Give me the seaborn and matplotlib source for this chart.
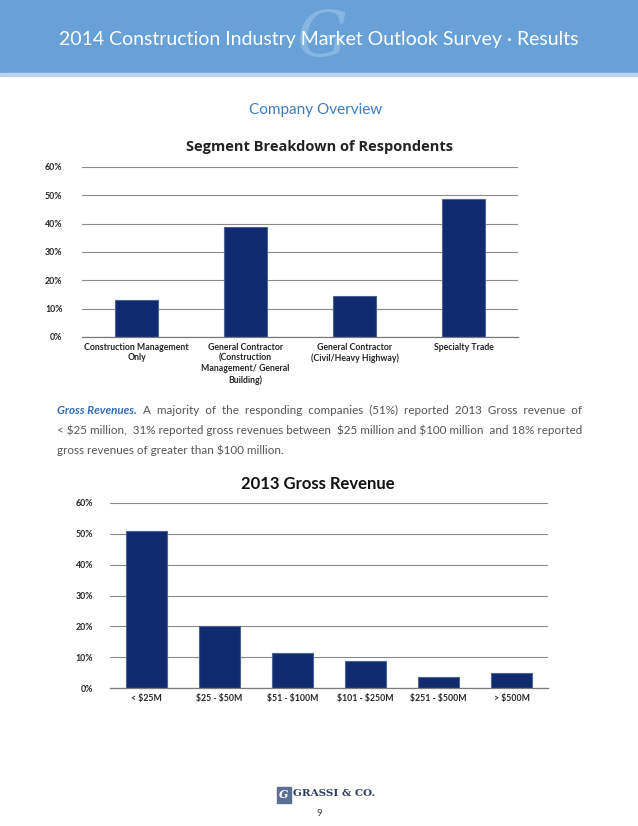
import numpy as np
import matplotlib
matplotlib.use("Agg")
import matplotlib.pyplot as plt
import seaborn as sns
from matplotlib.patches import Rectangle

# Data
segments = ["Construction Management\nOnly",
            "General Contractor\n(Construction\nManagement/ General\nBuilding)",
            "General Contractor\n(Civil/Heavy Highway)",
            "Specialty Trade"]
segment_share = [13.1, 38.8, 14.4, 48.7]

revenue_bins = ["< $25M", "$25 - $50M", "$51 - $100M", "$101 - $250M", "$251 - $500M", "> $500M"]
revenue_share = [51.0, 20.0, 11.2, 8.7, 3.7, 4.9]

yticks = [0, 10, 20, 30, 40, 50, 60]
ytick_labels = ["0%", "10%", "20%", "30%", "40%", "50%", "60%"]

W, H = 638, 826
BAR = "#0f2a6e"
GRID = "#8a8a8a"

sns.set_style("white")
plt.rcParams["font.family"] = ["DejaVu Sans"]
plt.rcParams["text.parse_math"] = False  # keep the dollar signs literal

fig = plt.figure(figsize=(W / 100, H / 100), dpi=100)


def px_axes(left, top, right, bottom):
    return fig.add_axes([left / W, 1 - bottom / H, (right - left) / W, (bottom - top) / H])


def fx(x):
    return x / W


def fy(y):
    return 1 - y / H


# banner
fig.patches.append(Rectangle((0, fy(73)), 1, 73 / H, transform=fig.transFigure,
                             color="#67a1d7", zorder=0))
fig.patches.append(Rectangle((0, fy(76)), 1, 3 / H, transform=fig.transFigure,
                             color="#b9d3ec", zorder=0))
fig.text(fx(322), fy(40), "G", fontsize=46, color="#88b6e2", family="DejaVu Serif",
         style="italic", ha="center", va="center", zorder=1)
fig.text(fx(319), fy(40), "2014 Construction Industry Market Outlook Survey · Results",
         fontsize=14, color="white", ha="center", va="center", family="Lato", zorder=2)

fig.text(fx(316), fy(110), "Company Overview", fontsize=11, color="#3b7dc4",
         ha="center", va="center", family="Lato")


def style_axes(ax, pad):
    ax.set_ylim(0, 60)
    ax.set_yticks(yticks)
    ax.set_yticklabels(ytick_labels, fontsize=6.3, fontweight="bold", family="Lato")
    ax.yaxis.grid(True, color=GRID, linewidth=0.8)
    ax.set_axisbelow(True)
    for s in ["left", "right", "top"]:
        ax.spines[s].set_visible(False)
    ax.spines["bottom"].set_color("#7a7a7a")
    ax.spines["bottom"].set_linewidth(0.9)
    ax.tick_params(axis="y", length=0, pad=pad)
    ax.tick_params(axis="x", length=0, pad=4)
    ax.set_xlabel("")
    ax.set_ylabel("")
    ax.set_facecolor("none")


# chart 1
ax1 = px_axes(82, 167, 518, 337)
sns.barplot(x=segments, y=segment_share, ax=ax1, color=BAR, width=0.4,
            edgecolor="#4d6296", linewidth=0.8, saturation=1)
style_axes(ax1, 14)
ax1.set_xticklabels(segments, fontsize=6.3, fontweight="bold", family="Lato",
                    linespacing=1.25, va="top")
fig.text(fx(320), fy(147), "Segment Breakdown of Respondents", fontsize=10.5,
         fontweight="bold", ha="center", va="center", family="Open Sans", color="#222222")

# paragraph, justified by padding the spaces of each line
para = [
    "A majority of the responding companies (51%) reported 2013 Gross revenue of",
    "< $25 million, 31% reported gross revenues between $25 million and $100 million and 18% reported",
    "gross revenues of greater than $100 million.",
]
fig.canvas.draw()
renderer = fig.canvas.get_renderer()
x0, x1 = 57, 582
FS = 8.4


def width_of(s, **kw):
    t = fig.text(0, 0, s, fontsize=FS, family="Lato", **kw)
    w = t.get_window_extent(renderer).width
    t.remove()
    return w


space_w = width_of("a b") - width_of("ab")
lead = fig.text(fx(x0), fy(414), "Gross Revenues.", fontsize=FS, fontweight="bold",
                style="italic", color="#2f6db5", va="baseline", family="Lato")
lead_w = lead.get_window_extent(renderer).width

for i, line in enumerate(para):
    start = x0 + lead_w + space_w * 2 if i == 0 else x0
    words = line.split()
    if i < len(para) - 1:
        n_extra = max(0, int(round((x1 - start - width_of(line)) / space_w)))
        gaps = len(words) - 1
        pads = [round((k + 1) * n_extra / gaps) - round(k * n_extra / gaps) for k in range(gaps)]
        text = words[0]
        for k, w in enumerate(words[1:]):
            text += " " * (1 + pads[k]) + w
    else:
        text = line
    fig.text(fx(start), fy(414 + i * 20), text, fontsize=FS, color="#555555",
             va="baseline", family="Lato")

# chart 2
ax2 = px_axes(110, 503, 548, 688)
sns.barplot(x=revenue_bins, y=revenue_share, ax=ax2, color=BAR, width=0.56,
            edgecolor="#4d6296", linewidth=0.8, saturation=1)
style_axes(ax2, 12)
ax2.set_xticklabels(revenue_bins, fontsize=6.3, fontweight="bold", family="Lato")
fig.text(fx(318), fy(484), "2013 Gross Revenue", fontsize=12, fontweight="bold",
         ha="center", va="center", family="Lato", color="#111111")

# footer logo
fig.patches.append(Rectangle((fx(277), fy(803)), 14 / W, 16 / H, transform=fig.transFigure,
                             color="#5d6f95", zorder=1))
fig.text(fx(284), fy(795), "G", fontsize=8, color="white", ha="center", va="center",
         family="DejaVu Serif", style="italic", fontweight="bold")
fig.text(fx(293), fy(793), "GRASSI & CO.", fontsize=7.5, color="#2f3c62", ha="left",
         va="center", family="DejaVu Serif", fontweight="bold")
fig.text(fx(319), fy(813), "9", fontsize=7, color="#444444", ha="center", va="center",
         family="Lato")

fig.savefig("out.png", dpi=100)
